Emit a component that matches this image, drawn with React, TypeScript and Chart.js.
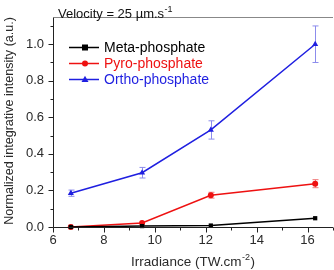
import React, { useEffect, useRef } from 'react';
import { Chart, registerables } from 'chart.js';

Chart.register(...registerables);

// Irradiance (TW.cm^-2) for each measurement
const irradiance = [6.7, 9.5, 12.2, 16.3];

// Normalized integrative intensity and its uncertainty per phosphate species
const metaValues = [0.0, 0.005, 0.008, 0.048];
const metaErrors = [0.003, 0.003, 0.004, 0.005];
const pyroValues = [0.0, 0.022, 0.174, 0.237];
const pyroErrors = [0.004, 0.007, 0.016, 0.022];
const orthoValues = [0.185, 0.297, 0.531, 1.0];
const orthoErrors = [0.017, 0.029, 0.05, 0.1];

const seriesNames = ['Meta-phosphate', 'Pyro-phosphate', 'Ortho-phosphate'];
const seriesColors = ['#000000', '#ee1111', '#1f1fe0'];
const errorColors = ['#777777', '#f07a7a', '#8c8cec'];
const seriesMarkers = ['rect', 'circle', 'triangle'];
const seriesRadii = [3, 3, 3.5];

const xTicks = [6, 8, 10, 12, 14, 16];
const xMinorTicks = [7, 9, 11, 13, 15, 17];
const yTicks = [0, 0.2, 0.4, 0.6, 0.8, 1.0];
const yMinorTicks = [0.1, 0.3, 0.5, 0.7, 0.9, 1.1];

const velocityLabel = 'Velocity = 25 µm.s';
const velocityExp = '-1';
const xTitle = 'Irradiance (TW.cm';
const xTitleExp = '-2';
const yTitle = 'Normalized integrative intensity (a.u.)';

const FONT = 'Arial, "Liberation Sans", sans-serif';
const TEXT = '#2a2a2a';

const allValues = [metaValues, pyroValues, orthoValues];
const allErrors = [metaErrors, pyroErrors, orthoErrors];

const decorations = {
  id: 'decorations',
  beforeDatasetsDraw(chart: any) {
    const ctx = chart.ctx;
    const xs = chart.scales.x;
    const ys = chart.scales.y;
    ctx.save();
    allValues.forEach((vals, i) => {
      const errs = allErrors[i];
      ctx.strokeStyle = errorColors[i];
      ctx.lineWidth = 1;
      vals.forEach((v, j) => {
        const px = Math.round(xs.getPixelForValue(irradiance[j])) + 0.5;
        const top = ys.getPixelForValue(v + errs[j]);
        const bot = ys.getPixelForValue(v - errs[j]);
        if (bot - top < 4) return;
        ctx.beginPath();
        ctx.moveTo(px, top);
        ctx.lineTo(px, bot);
        ctx.moveTo(px - 3, top);
        ctx.lineTo(px + 3, top);
        ctx.moveTo(px - 3, bot);
        ctx.lineTo(px + 3, bot);
        ctx.stroke();
      });
    });
    ctx.restore();
  },
  afterDraw(chart: any) {
    const ctx = chart.ctx;
    const a = chart.chartArea;
    const xs = chart.scales.x;
    const ys = chart.scales.y;
    ctx.save();

    // frame
    const L = Math.round(a.left) + 0.5;
    const B = Math.round(a.bottom) + 0.5;
    const T = Math.round(a.top) + 0.5;
    ctx.lineWidth = 1;
    ctx.strokeStyle = '#888888';
    ctx.beginPath();
    ctx.moveTo(L, T);
    ctx.lineTo(a.right, T);
    ctx.stroke();
    ctx.strokeStyle = '#222222';
    ctx.beginPath();
    ctx.moveTo(L, T);
    ctx.lineTo(L, B);
    ctx.lineTo(a.right, B);
    ctx.stroke();

    // ticks
    ctx.beginPath();
    xTicks.forEach((t) => {
      const p = Math.round(xs.getPixelForValue(t)) + 0.5;
      ctx.moveTo(p, B);
      ctx.lineTo(p, B + 5);
    });
    xMinorTicks.forEach((t) => {
      const p = Math.round(xs.getPixelForValue(t)) + 0.5;
      ctx.moveTo(p, B);
      ctx.lineTo(p, B + 3);
    });
    yTicks.forEach((t) => {
      const p = Math.round(ys.getPixelForValue(t)) + 0.5;
      ctx.moveTo(L, p);
      ctx.lineTo(L - 5, p);
    });
    yMinorTicks.forEach((t) => {
      const p = Math.round(ys.getPixelForValue(t)) + 0.5;
      ctx.moveTo(L, p);
      ctx.lineTo(L - 3, p);
    });
    ctx.stroke();

    // velocity annotation
    ctx.fillStyle = '#111111';
    ctx.textBaseline = 'alphabetic';
    ctx.textAlign = 'left';
    ctx.font = `13px ${FONT}`;
    ctx.fillText(velocityLabel, 58, 18);
    const vw = ctx.measureText(velocityLabel).width;
    ctx.font = `9px ${FONT}`;
    ctx.fillText(velocityExp, 58 + vw + 0.5, 12);

    // legend
    const legendY = [47, 63, 79];
    seriesNames.forEach((name, i) => {
      const y = legendY[i] + 0.5;
      ctx.strokeStyle = seriesColors[i];
      ctx.lineWidth = 1.5;
      ctx.beginPath();
      ctx.moveTo(69, y);
      ctx.lineTo(99, y);
      ctx.stroke();
      ctx.fillStyle = seriesColors[i];
      const r = seriesRadii[i];
      const cx = 85;
      ctx.beginPath();
      if (seriesMarkers[i] === 'rect') {
        ctx.rect(cx - r, y - r, 2 * r, 2 * r);
      } else if (seriesMarkers[i] === 'circle') {
        ctx.arc(cx, y, r, 0, Math.PI * 2);
      } else {
        ctx.moveTo(cx, y - r * 1.1);
        ctx.lineTo(cx + r, y + r * 0.7);
        ctx.lineTo(cx - r, y + r * 0.7);
        ctx.closePath();
      }
      ctx.fill();
      ctx.font = `14px ${FONT}`;
      ctx.textBaseline = 'middle';
      ctx.fillText(name, 104, legendY[i] + 1);
    });

    // x title
    ctx.fillStyle = TEXT;
    ctx.textBaseline = 'alphabetic';
    ctx.font = `13.5px ${FONT}`;
    const mainW = ctx.measureText(xTitle).width;
    ctx.font = `9px ${FONT}`;
    const expW = ctx.measureText(xTitleExp).width;
    ctx.font = `13.5px ${FONT}`;
    const closeW = ctx.measureText(')').width;
    const total = mainW + expW + closeW + 1;
    const cxT = (a.left + a.right) / 2;
    let sx = cxT - total / 2;
    ctx.fillText(xTitle, sx, 266);
    sx += mainW + 0.5;
    ctx.font = `9px ${FONT}`;
    ctx.fillText(xTitleExp, sx, 260);
    sx += expW + 0.5;
    ctx.font = `13.5px ${FONT}`;
    ctx.fillText(')', sx, 266);

    // y title
    ctx.save();
    ctx.translate(10, (a.top + a.bottom) / 2 - 1);
    ctx.rotate(-Math.PI / 2);
    ctx.textAlign = 'center';
    ctx.textBaseline = 'middle';
    ctx.font = `12.6px ${FONT}`;
    ctx.fillText(yTitle, 0, 0);
    ctx.restore();

    ctx.restore();
  },
};

export default function App() {
  const canvasRef = useRef<HTMLCanvasElement | null>(null);

  useEffect(() => {
    const canvas = canvasRef.current;
    if (!canvas) return;
    const datasets = allValues.map((vals, i) => ({
      label: seriesNames[i],
      data: vals.map((v, j) => ({ x: irradiance[j], y: v })),
      borderColor: seriesColors[i],
      backgroundColor: seriesColors[i],
      borderWidth: 1.5,
      pointStyle: seriesMarkers[i],
      pointRadius: seriesRadii[i],
      pointBorderWidth: 0,
      showLine: true,
      tension: 0,
      clip: false as any,
    }));
    const chart = new Chart(canvas, {
      type: 'scatter',
      data: { datasets },
      options: {
        animation: false,
        responsive: false,
        devicePixelRatio: 1,
        layout: { padding: { top: 1, right: 1, left: 0, bottom: 0 } },
        plugins: { legend: { display: false }, tooltip: { enabled: false } },
        scales: {
          x: {
            type: 'linear',
            min: 6,
            max: 17,
            afterBuildTicks: (s: any) => {
              s.ticks = xTicks.map((v) => ({ value: v }));
            },
            afterFit: (s: any) => {
              s.height = 43;
            },
            grid: { display: false, drawTicks: false },
            border: { display: false },
            ticks: {
              padding: 6,
              color: TEXT,
              font: { family: FONT, size: 13 },
              callback: (v: any) => String(v),
            },
          },
          y: {
            type: 'linear',
            min: 0,
            max: 1.15,
            afterBuildTicks: (s: any) => {
              s.ticks = yTicks.map((v) => ({ value: v }));
            },
            afterFit: (s: any) => {
              s.width = 53;
            },
            grid: { display: false, drawTicks: false },
            border: { display: false },
            ticks: {
              padding: 9,
              color: TEXT,
              font: { family: FONT, size: 13 },
              callback: (v: any) => Number(v).toFixed(1),
            },
          },
        },
      },
      plugins: [decorations],
    });
    return () => chart.destroy();
  }, []);

  return (
    <div
      style={{
        position: 'absolute',
        left: 0,
        top: 0,
        width: 334,
        height: 270,
        overflow: 'hidden',
        background: '#ffffff',
      }}
    >
      <canvas ref={canvasRef} width={337} height={270} style={{ display: 'block', width: 337, height: 270 }} />
    </div>
  );
}
